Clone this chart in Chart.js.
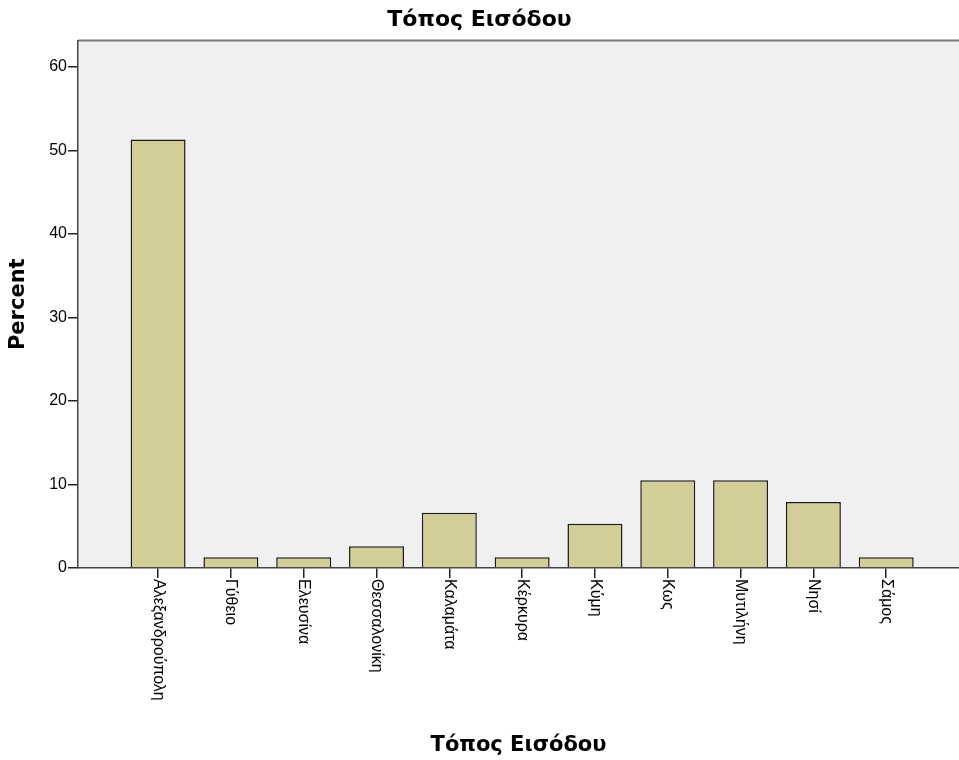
<!DOCTYPE html>
<html>
<head>
<meta charset="utf-8">
<script src="https://cdn.jsdelivr.net/npm/chart.js@4.4.1/dist/chart.umd.min.js"></script>
<style>
body{margin:0;background:#fff;overflow:hidden;}
</style>
</head>
<body>
<canvas id="bar_chart" width="959" height="760"></canvas>
<script>
// Τόπος Εισόδου - percent per place
var placeLabels=["Αλεξανδρούπολη","Γύθειο","Ελευσίνα","Θεσσαλονίκη","Καλαμάτα","Κέρκυρα","Κύμη","Κως","Μυτιλήνη","Νησί","Σάμος"];
var percentValues=[51.3,1.3,1.3,2.6,6.6,1.3,5.3,10.5,10.5,7.9,1.3];
var yTicks=[0,10,20,30,40,50,60];

var barData=[];
for(var i=0;i<placeLabels.length;i++){
	barData.push({x:i,y:percentValues[i]});
}

// grey plot background + top frame line
var plotFrame={
	id:'plotFrame',
	beforeDraw:function(chart){
		var c=chart.ctx, a=chart.chartArea;
		c.save();
		c.fillStyle="#f0f0f0";
		c.fillRect(a.left,a.top,a.right-a.left,a.bottom-a.top);
		c.strokeStyle="#7a7a7a";
		c.lineWidth=2;
		c.beginPath();
		c.moveTo(a.left,a.top);
		c.lineTo(a.right,a.top);
		c.stroke();
		c.restore();
	}
};

// category names, rotated to read top to bottom
var xLabelsDown={
	id:'xLabelsDown',
	afterDraw:function(chart){
		var c=chart.ctx, xs=chart.scales.x;
		c.save();
		c.fillStyle="#000";
		c.font="16px 'Liberation Sans', Arial, sans-serif";
		c.textAlign="left";
		c.textBaseline="middle";
		for(var i=0;i<placeLabels.length;i++){
			c.save();
			c.translate(xs.getPixelForValue(i),xs.top+11);
			c.rotate(Math.PI/2);
			c.fillText(placeLabels[i],0,0);
			c.restore();
		}
		c.restore();
	}
};

var ctx1=document.getElementById("bar_chart");
var myBarChart=new Chart(ctx1,{
	type:'bar',
	data:{
		datasets:[{
			label:"Percent",
			data:barData,
			backgroundColor:"#d3ce97",
			borderColor:"#1a1a1a",
			borderWidth:1.5,
			barPercentage:0.755,
			categoryPercentage:1
		}]
	},
	options:{
		responsive:false,
		animation:false,
		layout:{padding:0},
		plugins:{
			legend:{display:false},
			tooltip:{enabled:false},
			title:{
				display:true,
				text:"Τόπος Εισόδου",
				color:"#000",
				font:{family:"'DejaVu Sans', sans-serif",size:22,weight:'bold',lineHeight:1.2},
				padding:{top:7,bottom:7}
			}
		},
		scales:{
			x:{
				type:'linear',
				offset:false,
				min:-1.1,
				max:11,
				afterBuildTicks:function(s){
					s.ticks=placeLabels.map(function(n,i){return {value:i};});
				},
				afterFit:function(s){s.height=192;},
				ticks:{display:false},
				grid:{offset:false,drawOnChartArea:false,drawTicks:true,tickLength:10,color:"#222",lineWidth:1.5},
				border:{display:true,color:"#444",width:1.5},
				title:{
					display:true,
					text:"Τόπος Εισόδου",
					color:"#000",
					font:{family:"'DejaVu Sans', sans-serif",size:21,weight:'bold',lineHeight:1.2},
					padding:{top:0,bottom:2}
				}
			},
			y:{
				min:0,
				max:63.15,
				afterBuildTicks:function(s){
					s.ticks=yTicks.map(function(v){return {value:v};});
				},
				afterFit:function(s){s.width=78;},
				ticks:{
					color:"#000",
					padding:1,
					font:{family:"'Liberation Sans', Arial, sans-serif",size:16}
				},
				grid:{drawOnChartArea:false,drawTicks:true,tickLength:10,color:"#222",lineWidth:1.5},
				border:{display:true,color:"#444",width:1.5},
				title:{
					display:true,
					text:"Percent",
					color:"#000",
					font:{family:"'DejaVu Sans', sans-serif",size:21,weight:'bold',lineHeight:1.2},
					padding:{top:6,bottom:0}
				}
			}
		}
	},
	plugins:[plotFrame,xLabelsDown]
});
</script>
</body>
</html>
